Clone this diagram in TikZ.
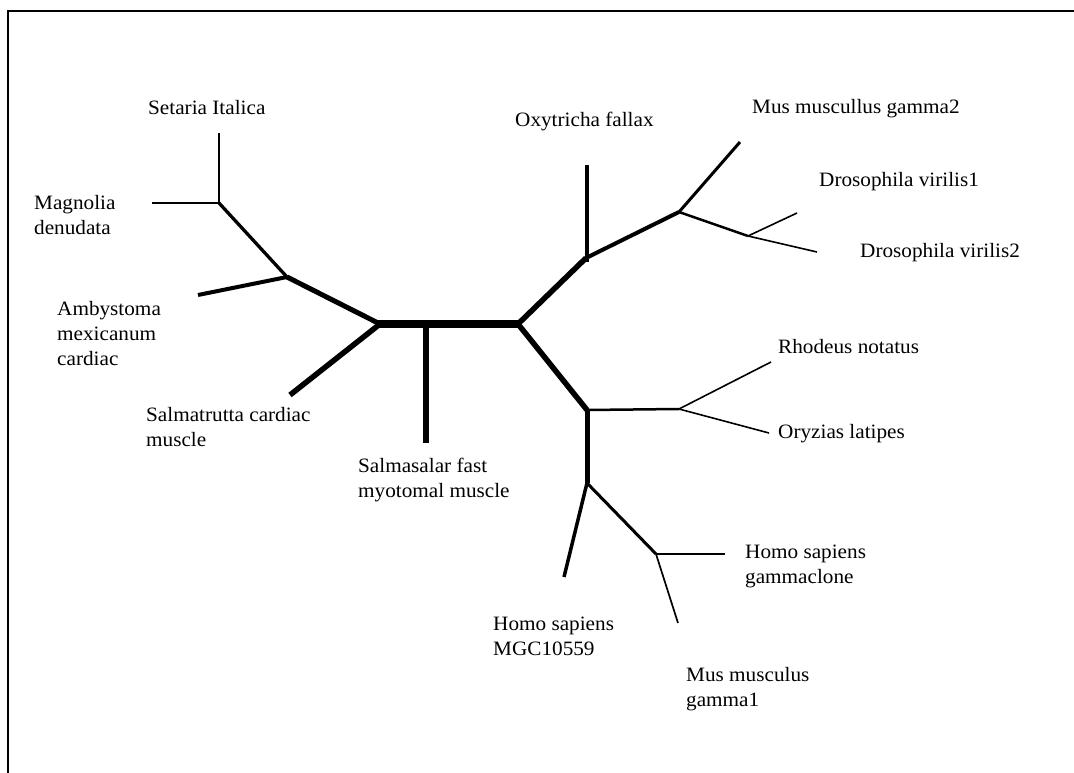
\documentclass[tikz,border=0pt]{standalone}
\usepackage{fontspec}
\setmainfont{Liberation Serif}[FakeStretch=1.04]
\begin{document}
\begin{tikzpicture}[x=1pt,y=-1pt,
  branch/.style={line width=#1pt, line cap=butt},
  lbl/.style={anchor=north west, inner sep=0pt, align=left,
    font=\fontsize{20.4pt}{25pt}\selectfont}]
\useasboundingbox (0,0) rectangle (1074,773);
% open frame (left and top edges)
\draw[line width=2pt] (8,790) -- (8,11) -- (1090,11);

% internal nodes of the tree
\coordinate (A) at (219,203);
\coordinate (B) at (287,277);
\coordinate (C) at (380,324);
\coordinate (D) at (518,324);
\coordinate (S) at (426,324);
\coordinate (E) at (586,258);
\coordinate (F) at (679,212);
\coordinate (G) at (748,236);
\coordinate (H) at (587,410);
\coordinate (I) at (679,409);
\coordinate (J) at (587,483);
\coordinate (K) at (656,554);

% leaf tips
\coordinate (lSet) at (219,133);
\coordinate (lMag) at (152,203);
\coordinate (lAmb) at (198,295);
\coordinate (lSmt) at (290,395);
\coordinate (lSms) at (426,443);
\coordinate (lOxy) at (587,165);
\coordinate (lOxyb) at (587,262);
\coordinate (lMg2) at (740,142);
\coordinate (lDr1) at (797,213);
\coordinate (lDr2) at (817,252);
\coordinate (lRho) at (771,362);
\coordinate (lOry) at (769,433);
\coordinate (lHmg) at (564,577);
\coordinate (lHgc) at (725,554);
\coordinate (lMg1) at (678,623);

% branches
\draw[branch=2] (A) -- (lSet);
\draw[branch=2] (A) -- (lMag);
\draw[branch=3.3] (A) -- (B);
\draw[branch=4] (B) -- (lAmb);
\draw[branch=5] (B) -- (C);
\draw[branch=5.5] (C) -- (lSmt);
\draw[branch=7.5] ([xshift=-2pt]C) -- (D);
\draw[branch=5.5] (S) -- (lSms);
\draw[branch=5.5] (D) -- (E);
\draw[branch=4] (lOxy) -- (lOxyb);
\draw[branch=4] (E) -- (F);
\draw[branch=3] (F) -- (lMg2);
\draw[branch=2.5] (F) -- (G);
\draw[branch=1.6] (G) -- (lDr1);
\draw[branch=1.6] (G) -- (lDr2);
\draw[branch=5.5] (D) -- (H);
\draw[branch=2.5] (H) -- (I);
\draw[branch=1.6] (I) -- (lRho);
\draw[branch=1.6] (I) -- (lOry);
\draw[branch=5] (H) -- (J);
\draw[branch=3.5] (J) -- (lHmg);
\draw[branch=3] (J) -- (K);
\draw[branch=2.5] (K) -- (lHgc);
\draw[branch=1.7] (K) -- (lMg1);

% taxon labels
\node[lbl] (tSet) at (148,100) {Setaria Italica};
\node[lbl] (tMag) at (34,195) {Magnolia\\denudata};
\node[lbl] (tAmb) at (57,301) {Ambystoma\\mexicanum\\cardiac};
\node[lbl] (tSmt) at (146,407) {Salmatrutta cardiac\\muscle};
\node[lbl] (tSms) at (358,458) {Salmasalar fast\\myotomal muscle};
\node[lbl] (tOxy) at (515,112) {Oxytricha fallax};
\node[lbl] (tMg2) at (752,99) {Mus muscullus gamma2};
\node[lbl] (tDr1) at (819,172) {Drosophila virilis1};
\node[lbl] (tDr2) at (860,243) {Drosophila virilis2};
\node[lbl] (tRho) at (778,339) {Rhodeus notatus};
\node[lbl] (tOry) at (778,424) {Oryzias latipes};
\node[lbl] (tHgc) at (745,545) {Homo sapiens\\gammaclone};
\node[lbl] (tHmg) at (493,617) {Homo sapiens\\MGC10559};
\node[lbl] (tMg1) at (686,667) {Mus musculus\\gamma1};
\end{tikzpicture}
\end{document}
